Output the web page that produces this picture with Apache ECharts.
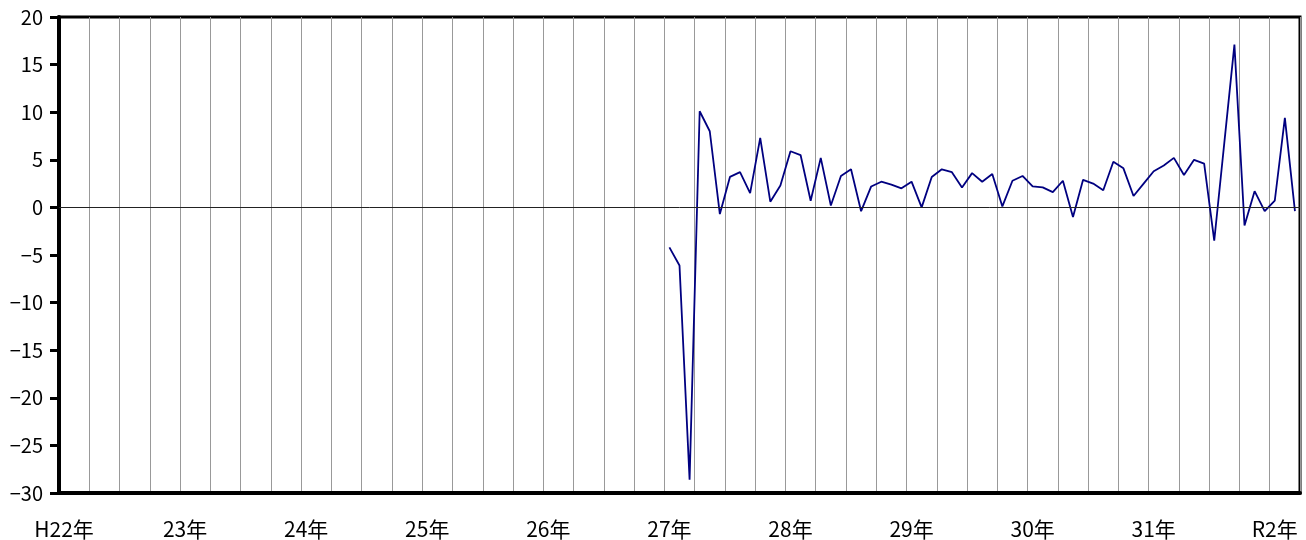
<!DOCTYPE html>
<html>
<head>
<meta charset="utf-8">
<script src="https://cdn.jsdelivr.net/npm/echarts@6/dist/echarts.min.js"></script>
<style>
html,body{margin:0;padding:0;background:#fff;}
#chart{width:1306px;height:540px;}
</style>
</head>
<body>
<div id="chart"></div>
<script>
// Year labels (January of each year), months H22.1 .. R2.3
const yearLabels = ['H22年','23年','24年','25年','26年','27年','28年','29年','30年','31年','R2年'];
const monthsCount = 123;
const firstDataIndex = 60; // H27年1月
// Values from H27年1月 to R2年3月
const values = [
  -4.2, -6.1, -28.6, 10.1, 8.0, -0.7, 3.2, 3.7, 1.5, 7.3, 0.6, 2.3,
  5.9, 5.5, 0.7, 5.2, 0.2, 3.3, 4.0, -0.4, 2.2, 2.7, 2.4, 2.0,
  2.7, 0.0, 3.2, 4.0, 3.7, 2.1, 3.6, 2.7, 3.5, 0.1, 2.8, 3.3,
  2.2, 2.1, 1.6, 2.8, -1.0, 2.9, 2.5, 1.8, 4.8, 4.1, 1.2, 2.5,
  3.8, 4.4, 5.2, 3.4, 5.0, 4.6, -3.5, 6.8, 17.1, -1.9, 1.7, -0.4,
  0.7, 9.4, -0.4
];
const yTicks = { min: -30, max: 20, interval: 5 };

const categories = [];
for (let i = 0; i < monthsCount; i++) {
  categories.push(i % 12 === 0 ? yearLabels[i / 12] : String(i));
}
const seriesData = [];
for (let i = 0; i < monthsCount; i++) {
  const k = i - firstDataIndex;
  seriesData.push(k >= 0 && k < values.length ? values[k] : null);
}

const font = '"Noto Sans CJK JP", "Noto Sans", sans-serif';
const chart = echarts.init(document.getElementById('chart'), null, {renderer: 'canvas'});
chart.setOption({
  animation: false,
  backgroundColor: '#fff',
  grid: { left: 59, right: 6, top: 17, bottom: 47, show: true, borderColor: '#000', borderWidth: 3 },
  xAxis: {
    type: 'category',
    data: categories,
    boundaryGap: true,
    axisLine: { onZero: false, lineStyle: { color: '#000', width: 4 } },
    axisTick: { show: false, interval: 2 },
    splitLine: { show: true, interval: 2, lineStyle: { color: '#999', width: 1 } },
    axisLabel: {
      interval: function (i) { return i % 12 === 0; },
      formatter: function (v, i) { return i % 12 === 0 ? v : ''; },
      color: '#000', fontSize: 21, fontFamily: font, margin: 26
    }
  },
  yAxis: {
    type: 'value',
    min: yTicks.min, max: yTicks.max, interval: yTicks.interval,
    axisLine: { show: true, lineStyle: { color: '#000', width: 4 } },
    axisTick: { show: true, length: 9, lineStyle: { color: '#000', width: 3 } },
    splitLine: { show: false },
    axisLabel: {
      color: '#000', fontSize: 20, fontFamily: font, margin: 16,
      formatter: function (v) { return String(v).replace('-', '\u2212'); }
    }
  },
  series: [{
    type: 'line',
    data: seriesData,
    connectNulls: false,
    showSymbol: false,
    symbol: 'none',
    lineStyle: { color: '#000080', width: 1.8 },
    markLine: {
      silent: true,
      symbol: 'none',
      label: { show: false },
      lineStyle: { color: '#222', width: 1, type: 'solid' },
      data: [{ yAxis: 0 }]
    }
  }]
});
</script>
</body>
</html>
